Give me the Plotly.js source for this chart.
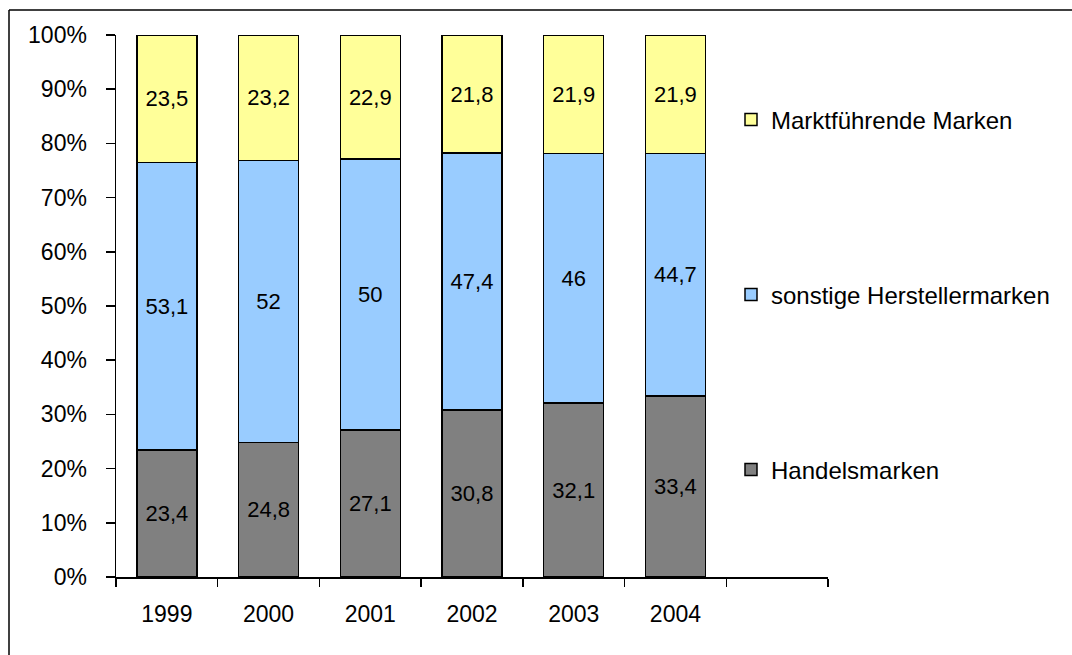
<!DOCTYPE html>
<html>
<head>
<meta charset="utf-8">
<script src="https://cdn.plot.ly/plotly-3.0.1.min.js"></script>
<style>
  html, body { margin: 0; padding: 0; background: #fff; }
  #chart { width: 1072px; height: 655px; }
</style>
</head>
<body>
<div id="chart"></div>
<script>
const years = [1999, 2000, 2001, 2002, 2003, 2004];
const handelsmarken = [23.4, 24.8, 27.1, 30.8, 32.1, 33.4];
const sonstige = [53.1, 52, 50, 47.4, 46, 44.7];
const marktfuehrende = [23.5, 23.2, 22.9, 21.8, 21.9, 21.9];
const yTicks = [0, 10, 20, 30, 40, 50, 60, 70, 80, 90, 100];

const fontFam = '"Liberation Sans", Arial, Helvetica, sans-serif';
const fmt = v => String(v).replace('.', ',');

function barTrace(name, vals, color, legendId) {
  return {
    type: 'bar',
    name: name,
    x: years,
    y: vals,
    text: vals.map(fmt),
    textposition: 'inside',
    insidetextanchor: 'middle',
    textangle: 0,
    textfont: { family: fontFam, size: 22, color: '#000' },
    constraintext: 'none',
    marker: { color: color, line: { color: '#000', width: 1.5 } },
    legend: legendId,
    hoverinfo: 'skip'
  };
}

const traces = [
  barTrace('Handelsmarken', handelsmarken, '#808080', 'legend3'),
  barTrace('sonstige Herstellermarken', sonstige, '#99CCFF', 'legend2'),
  barTrace('Marktführende Marken', marktfuehrende, '#FFFF99', 'legend')
];

const L = 116, R = 828, T = 35, B = 577;
const W = R - L, H = B - T;
const legX = (731 - L) / W;
function legendAt(yPix) {
  return {
    x: legX, xanchor: 'left',
    y: (B - yPix) / H, yanchor: 'middle',
    bgcolor: 'rgba(0,0,0,0)',
    font: { family: fontFam, size: 24, color: '#000' }
  };
}

const boundaries = [];
for (let i = 0; i <= years.length + 1; i++) boundaries.push(years[0] - 0.5 + i);

const layout = {
  width: 1072,
  height: 655,
  margin: { l: L, r: 1072 - R, t: T, b: 655 - B, pad: 0 },
  paper_bgcolor: '#fff',
  plot_bgcolor: '#fff',
  barmode: 'stack',
  bargap: 0.41,
  showlegend: true,
  font: { family: fontFam, size: 23, color: '#000' },
  xaxis: {
    type: 'linear',
    range: [years[0] - 0.5, years[years.length - 1] + 1.5],
    tickmode: 'array',
    tickvals: years,
    ticktext: years.map(String),
    ticks: 'outside',
    ticklen: 0,
    ticklabelstandoff: 16,
    tickfont: { family: fontFam, size: 23, color: '#000' },
    showline: true,
    linecolor: '#000',
    linewidth: 1.5,
    showgrid: false,
    zeroline: false,
    minor: {
      tickmode: 'array',
      tickvals: boundaries,
      ticks: 'outside',
      ticklen: 8,
      tickwidth: 1.5,
      tickcolor: '#000',
      showgrid: false
    },
    fixedrange: true
  },
  yaxis: {
    range: [0, 100],
    tickmode: 'array',
    tickvals: yTicks,
    ticktext: yTicks.map(v => v + '%'),
    ticks: 'outside',
    ticklen: 9,
    tickwidth: 1.5,
    tickcolor: '#000',
    ticklabelstandoff: 14,
    tickfont: { family: fontFam, size: 23, color: '#000' },
    showline: true,
    linecolor: '#000',
    linewidth: 1.5,
    showgrid: false,
    zeroline: false,
    fixedrange: true
  },
  legend: legendAt(120),
  legend2: legendAt(295),
  legend3: legendAt(470),
  shapes: [
    { type: 'line', xref: 'paper', yref: 'paper',
      x0: (9 - L) / W, x1: (1080 - L) / W, y0: (B - 10) / H, y1: (B - 10) / H,
      line: { color: '#000', width: 1.5 } },
    { type: 'line', xref: 'paper', yref: 'paper',
      x0: (9 - L) / W, x1: (9 - L) / W, y0: (B - 10) / H, y1: (B - 670) / H,
      line: { color: '#000', width: 1.5 } }
  ]
};

Plotly.newPlot('chart', traces, layout, { staticPlot: true, displayModeBar: false });
</script>
</body>
</html>
